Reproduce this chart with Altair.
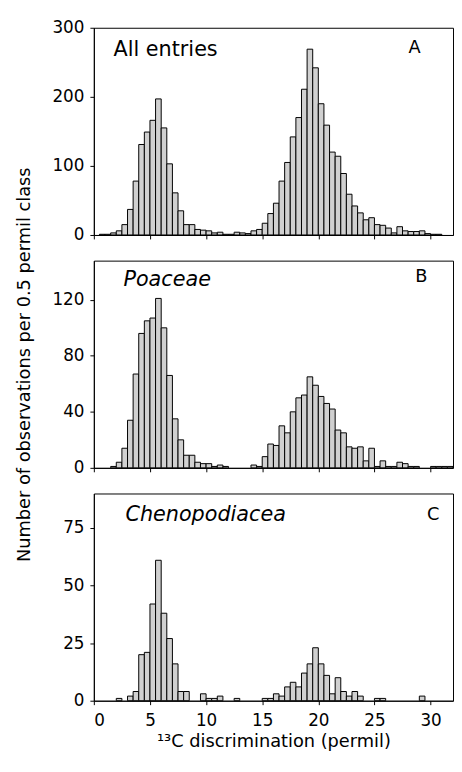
import altair as alt
import pandas as pd

# bin starts (0.5 permil classes)
bins = [i * 0.5 for i in range(64)]

counts_all = [0, 1, 1, 3, 6, 15, 37, 78, 131, 149,
              166, 197, 155, 103, 61, 35, 15, 15, 8, 7,
              6, 3, 4, 1, 1, 4, 3, 2, 6, 8,
              17, 31, 46, 78, 105, 142, 170, 211, 269, 242,
              190, 159, 120, 114, 89, 59, 42, 32, 22, 25,
              15, 14, 10, 3, 12, 6, 5, 5, 6, 2,
              1, 1, 0, 0]

counts_poaceae = [0, 0, 0, 1, 4, 14, 34, 67, 96, 105,
                  107, 121, 100, 66, 35, 20, 9, 9, 4, 3,
                  3, 1, 2, 1, 0, 0, 0, 0, 2, 1,
                  8, 17, 16, 30, 25, 40, 50, 52, 65, 59,
                  51, 46, 42, 27, 25, 15, 14, 15, 5, 14,
                  1, 5, 1, 1, 4, 3, 1, 1, 0, 0,
                  1, 1, 1, 1]

counts_cheno = [0, 0, 0, 0, 1, 0, 2, 4, 20, 21,
                42, 61, 38, 27, 16, 4, 4, 0, 0, 3,
                1, 1, 2, 0, 0, 1, 0, 0, 0, 0,
                1, 1, 3, 2, 6, 8, 6, 12, 16, 23,
                16, 11, 3, 10, 4, 2, 4, 2, 0, 0,
                1, 1, 0, 0, 0, 0, 0, 0, 2, 0,
                0, 0, 0, 0]

x_ticks = [0, 5, 10, 15, 20, 25, 30]
FONT = "DejaVu Sans"
W, H = 364, 210


def panel(counts, ymax, yticks, name, letter, name_x, name_y, letter_x, letter_y,
          italic, ytitle, bottom):
    df = pd.DataFrame({"start": bins, "end": [b + 0.5 for b in bins], "count": counts})
    df = df[df["count"] > 0]
    xaxis = alt.Axis(values=x_ticks, labels=bottom, labelPadding=8,
                     title="\u00b9\u00b3C discrimination (permil)" if bottom else None,
                     titlePadding=4, titleFontSize=18)
    yaxis = alt.Axis(values=yticks, labelPadding=6, title=ytitle, titlePadding=19,
                     titleFontSize=18)
    bars = alt.Chart(df).mark_bar(fill="#d0d0d0", stroke="black", strokeWidth=1).encode(
        x=alt.X("start:Q", scale=alt.Scale(domain=[0, 32], nice=False, zero=False), axis=xaxis),
        x2="end:Q",
        y=alt.Y("count:Q", scale=alt.Scale(domain=[0, ymax], nice=False), axis=yaxis),
        y2=alt.datum(0),
    )
    name_df = pd.DataFrame({"t": [name]})
    name_mark = alt.Chart(name_df).mark_text(
        align="left", baseline="alphabetic", font=FONT, fontSize=21,
        fontStyle="italic" if italic else "normal", color="black"
    ).encode(text="t:N", x=alt.value(name_x), y=alt.value(name_y))
    letter_df = pd.DataFrame({"t": [letter]})
    letter_mark = alt.Chart(letter_df).mark_text(
        align="center", baseline="alphabetic", font=FONT, fontSize=18, color="black"
    ).encode(text="t:N", x=alt.value(letter_x), y=alt.value(letter_y))
    return alt.layer(bars, name_mark, letter_mark).properties(width=W, height=H)


pa = panel(counts_all, 300, [0, 100, 200, 300], "All entries", "A", 20, 29, 325, 26,
           False, None, False)
pb = panel(counts_poaceae, 148, [0, 40, 80, 120], "Poaceae", "B", 30, 26, 332, 22,
           True, "Number of observations per 0.5 permil class", False)
pc = panel(counts_cheno, 90, [0, 25, 50, 75], "Chenopodiacea", "C", 32, 28, 344, 27,
           True, None, True)

chart = alt.vconcat(pa, pb, pc, spacing=26, bounds="flush").properties(
    padding={"left": 7, "top": 5, "right": 0, "bottom": 0}
).configure_view(stroke="black", strokeWidth=1).configure_axis(
    grid=False, domainColor="black", tickColor="black", labelColor="black",
    titleColor="black", labelFont=FONT, titleFont=FONT, labelFontSize=17,
    titleFontWeight="normal", tickSize=4, domainWidth=1
)

chart.save("out.html", embed_options={"renderer": "svg", "actions": False})
